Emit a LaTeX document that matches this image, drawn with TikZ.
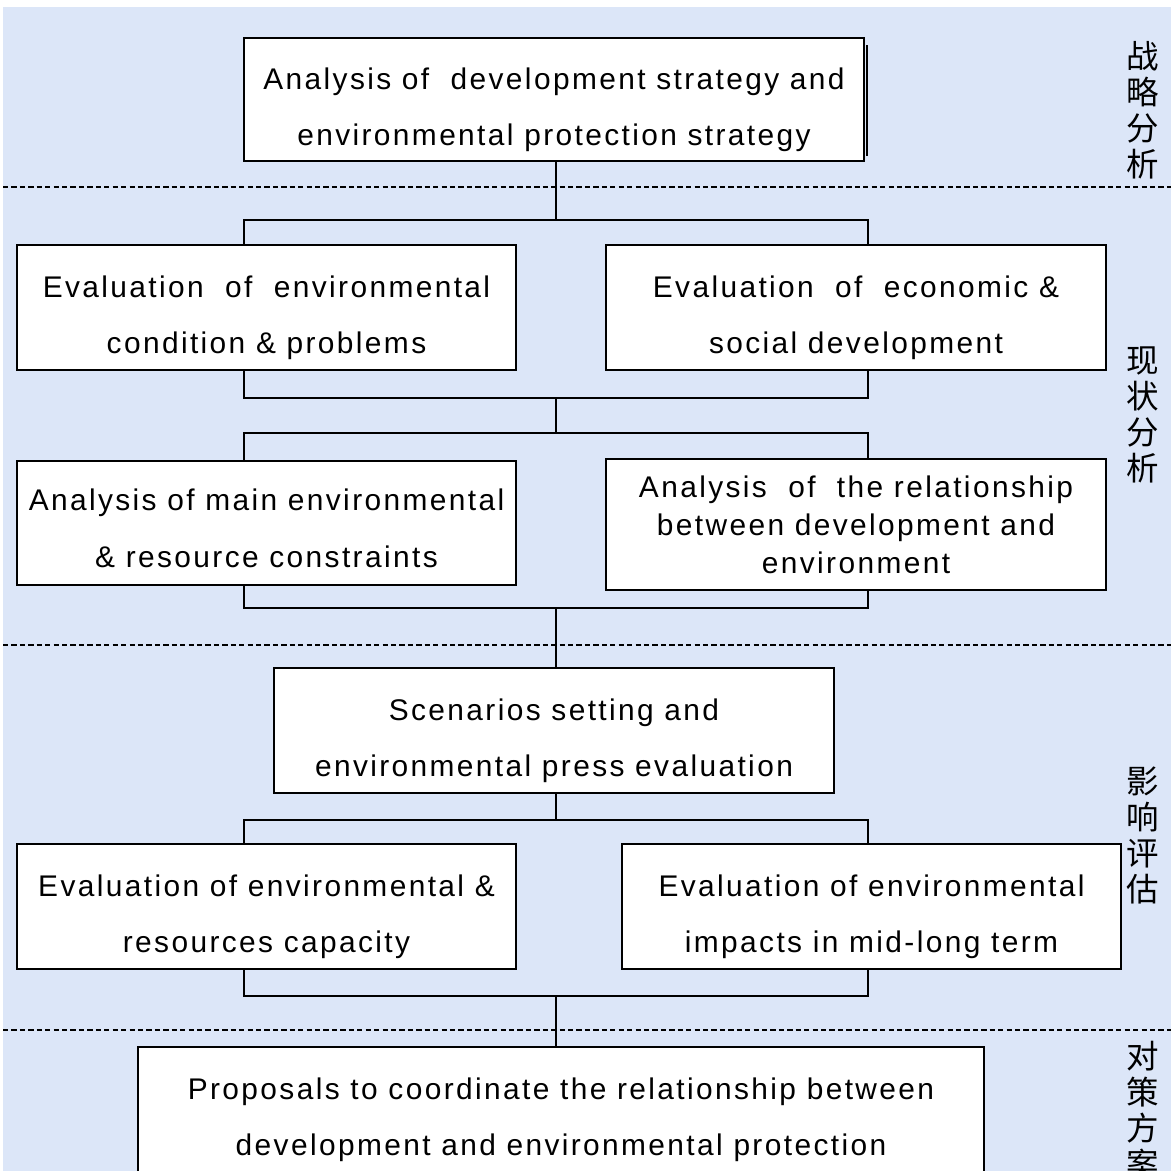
\documentclass[tikz,border=0pt]{standalone}
\usepackage{fontspec}
\setmainfont{Liberation Sans}[LetterSpace=8]
\newfontfamily\cjk{Noto Sans CJK SC}
\definecolor{bgblue}{RGB}{220,230,248}
\newcommand\boxlift[1][24pt]{\rule{0pt}{#1}}
\tikzset{
        box/.style={draw, fill=white, line width=1.1pt, align=center, inner sep=0pt,
                minimum width=10cm, minimum height=2.5cm, font=\fontsize{17pt}{32.4pt}\selectfont},
        link/.style={line width=1.1pt},
        sep/.style={line width=1.2pt, dash pattern=on 3pt off 1.8pt},
        tag/.style={align=center, inner sep=0pt, font=\cjk\fontsize{18.5pt}{20.5pt}\selectfont}
}
\begin{document}
\begin{tikzpicture}[x=.02cm, y=-.02cm]
        \useasboundingbox (0, 0) rectangle (1171, 1171);
        \fill[white] (0, 0) rectangle (1171, 1171);
        \fill[bgblue] (3, 7) rectangle (1171, 1171);
        \foreach \y in {187, 645, 1030} {
                \draw[sep] (3, \y) -- (1171, \y);
            }

        \node[box, minimum width=12.4cm, minimum height=2.46cm] (strat) at (554, 99.5)
                {\boxlift Analysis of\ \ development strategy and\\environmental protection strategy};
        \draw[link] ([shift={(2, 8)}]strat.north east) -- ([shift={(2, -6)}]strat.south east);
        \node[box] (envc) at (266.5, 307.5) {\boxlift Evaluation\ \ of\ \ environmental\\condition \& problems};
        \node[box] (econ) at (856, 307.5) {\boxlift Evaluation\ \ of\ \ economic \&\\social development};
        \node[box, minimum height=2.48cm] (cons) at (266.5, 523)
                {\boxlift[18pt]Analysis of main environmental\\\& resource constraints};
        \node[box, minimum height=2.62cm, font=\fontsize{17pt}{21.6pt}\selectfont] (rel) at (856, 524.5)
                {Analysis\ \ of\ \ the relationship\\between development and\\environment};
        \node[box, minimum width=11.2cm] (scen) at (554, 730.5)
                {\boxlift Scenarios setting and\\environmental press evaluation};
        \node[box] (capa) at (266.5, 906.5) {\boxlift Evaluation of environmental \&\\resources capacity};
        \node[box] (impa) at (871.5, 906.5) {\boxlift Evaluation of environmental\\impacts in mid-long term};
        \node[box, minimum width=16.92cm] (prop) at (561, 1109.5)
                {\boxlift Proposals to coordinate the relationship between\\development and environmental protection};

        \coordinate (lft) at (244, 0);
        \coordinate (rgt) at (868, 0);
        \coordinate (j1) at (556, 220);
        \coordinate (j2) at (556, 398);
        \coordinate (j3) at (556, 433);
        \coordinate (j4) at (556, 608);
        \coordinate (j5) at (556, 820);
        \coordinate (j6) at (556, 996);

        \draw[link] (strat.south -| j1) -- (j1);
        \draw[link] (envc.north -| lft) |- (j1) -| (econ.north -| rgt);
        \draw[link] (envc.south -| lft) |- (j2) -| (econ.south -| rgt);
        \draw[link] (j2) -- (j3);
        \draw[link] (cons.north -| lft) |- (j3) -| (rel.north -| rgt);
        \draw[link] (cons.south -| lft) |- (j4) -| (rel.south -| rgt);
        \draw[link] (j4) -- (scen.north -| j4);
        \draw[link] (scen.south -| j5) -- (j5);
        \draw[link] (capa.north -| lft) |- (j5) -| (impa.north -| rgt);
        \draw[link] (capa.south -| lft) |- (j6) -| (impa.south -| rgt);
        \draw[link] (j6) -- (prop.north -| j6);

        \node[tag] (tagA) at (1143, 110) {战\\略\\分\\析};
        \node[tag] (tagB) at (1143, 415) {现\\状\\分\\析};
        \node[tag] (tagC) at (1143, 835) {影\\响\\评\\估};
        \node[tag] (tagD) at (1143, 1110) {对\\策\\方\\案};
\end{tikzpicture}
\end{document}
